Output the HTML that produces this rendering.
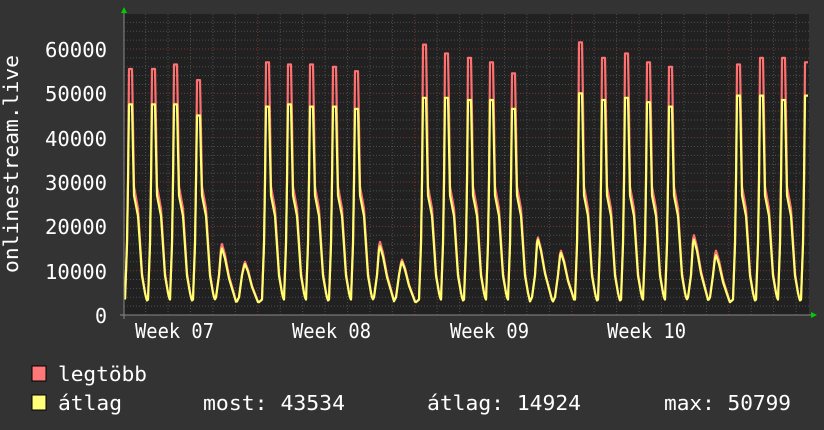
<!DOCTYPE html>
<html><head><meta charset="utf-8"><style>
html,body{margin:0;padding:0;background:#333;}
svg{display:block;}
text{font-family:"DejaVu Sans Mono","Liberation Mono",monospace;fill:#fff;}
</style></head><body>
<svg id="s" width="824" height="430" xmlns="http://www.w3.org/2000/svg">
<rect width="824" height="430" fill="#333"/>
<rect x="124" y="14" width="685" height="301" fill="#212121"/>
<g id="grid"></g>
<g id="data"></g>
<line x1="120" y1="315" x2="812" y2="315" stroke="#888" stroke-width="1"/>
<line x1="124" y1="12" x2="124" y2="319" stroke="#888" stroke-width="1"/>
<polygon points="121,13 127,13 124,7" fill="#0c0"/>
<polygon points="811,312 811,318 817,315" fill="#0c0"/>
<g font-size="20" lengthAdjust="spacingAndGlyphs">
<text x="45" y="57" textLength="62" lengthAdjust="spacingAndGlyphs">60000</text>
<text x="45" y="101" textLength="62" lengthAdjust="spacingAndGlyphs">50000</text>
<text x="45" y="146" textLength="62" lengthAdjust="spacingAndGlyphs">40000</text>
<text x="45" y="190" textLength="62" lengthAdjust="spacingAndGlyphs">30000</text>
<text x="45" y="234" textLength="62" lengthAdjust="spacingAndGlyphs">20000</text>
<text x="45" y="279" textLength="62" lengthAdjust="spacingAndGlyphs">10000</text>
<text x="95" y="323" textLength="12" lengthAdjust="spacingAndGlyphs">0</text>
</g>
<text x="55" y="18" font-size="20" textLength="218" lengthAdjust="spacingAndGlyphs" transform="rotate(-90 0 0) translate(-328 0)">onlinestream.live</text>
<g font-size="20">
<text x="135" y="338" textLength="79" lengthAdjust="spacingAndGlyphs">Week 07</text>
<text x="292" y="338" textLength="79" lengthAdjust="spacingAndGlyphs">Week 08</text>
<text x="450" y="338" textLength="79" lengthAdjust="spacingAndGlyphs">Week 09</text>
<text x="607" y="338" textLength="79" lengthAdjust="spacingAndGlyphs">Week 10</text>
</g>
<rect x="32" y="366" width="14" height="15" fill="#ff7878" stroke="#000" stroke-width="1"/>
<rect x="32" y="395" width="14" height="15" fill="#ffff78" stroke="#000" stroke-width="1"/>
<g font-size="20">
<text x="58" y="381" textLength="89" lengthAdjust="spacingAndGlyphs">legtöbb</text>
<text x="58" y="410" textLength="64" lengthAdjust="spacingAndGlyphs">átlag</text>
<text x="203" y="410" textLength="142" lengthAdjust="spacingAndGlyphs">most: 43534</text>
<text x="427" y="410" textLength="154" lengthAdjust="spacingAndGlyphs">átlag: 14924</text>
<text x="664" y="410" textLength="127" lengthAdjust="spacingAndGlyphs">max: 50799</text>
</g>
</svg>
<script>
var NS="http://www.w3.org/2000/svg";
function el(p,t,a){var e=document.createElementNS(NS,t);for(var k in a)e.setAttribute(k,a[k]);p.appendChild(e);return e;}
var g=document.getElementById('grid');
var y0=315,k=44.33/10000;
function Y(v){return y0-v*k;}
for(var v=2000;v<=66000;v+=2000){var y=Y(v);if(y<14)break;var maj=v%10000==0;
el(g,'line',{x1:124,x2:809,y1:y,y2:y,stroke:maj?'#7a3434':'#4e4e4e','stroke-dasharray':'1,2','stroke-width':1});}
for(var x=145.6;x<809;x+=22.43){var maj=Math.abs(((x-258)/157)-Math.round((x-258)/157))<0.02;
el(g,'line',{x1:x,x2:x,y1:14,y2:315,stroke:maj?'#7a3434':'#4e4e4e','stroke-dasharray':'1,2','stroke-width':1});}
var P=[[130,55.5,47.5,0],[153,55.5,47.5,0],[175,56.5,47.5,0],[198,53,45,0],[222,16,15,1],[245,12,11.5,1],
[267,57,47,0],[289,56.5,47.5,0],[311,56.5,47,0],[334,56,47,0],[356,55,46.5,0],[380,16.5,15.5,1],[402,12.5,12,1],
[424,61,49,0],[446,59,49,0],[469,58,48.5,0],[491,57,48.5,0],[513,54.5,46.5,0],[538,17.5,17,1],[561,14.5,14,1],
[580,61.5,50,0],[603,58,48.5,0],[626,59,49,0],[648,57,48,0],[670,56,47,0],[694,18,17,1],[716,14.5,13.5,1],
[738,56.5,49.5,0],[761,58,49.5,0],[783,58,48.5,0],[806,57,49.5,0]];
function interp(d,xs,ys){if(d<=xs[0])return ys[0];for(var i=1;i<xs.length;i++){if(d<=xs[i]){var t=(d-xs[i-1])/(xs[i]-xs[i-1]);return ys[i-1]+(ys[i]-ys[i-1])*t;}}return ys[ys.length-1];}
function val(x,w){var best=0;
for(var i=0;i<P.length;i++){var p=P[i],c=p[0]-1,pk=(w?p[2]:p[1])*1000,d=x-c,v;
if(p[3]){v=interp(d,[-8,-5,-2,0,1,4,8,12,16,19],[2600,4000,9000,pk*0.95,pk,pk*0.85,pk*0.55,pk*0.35,pk*0.15,2600]);}
else{var r=w?0.93:1;
v=interp(d,[-7,-4,-2,-1,0,3,4,5,9,13,16,18,19],[2900,3500,16000,30000,pk,pk,pk*0.78,29000*r,24000*r,9500*r,5000,3000,2900]);}
if(v>best)best=v;}
return best;}
var dg=document.getElementById('data');
['#ff7070','#ffff70'].forEach(function(col,w){var pts=[];
for(var x=125;x<=808;x+=1){pts.push(x+','+Y(val(x,w)).toFixed(1));}
el(dg,'polyline',{points:pts.join(' '),fill:'none',stroke:col,'stroke-width':2.2,'stroke-linejoin':'round'});});
</script>
</body></html>
